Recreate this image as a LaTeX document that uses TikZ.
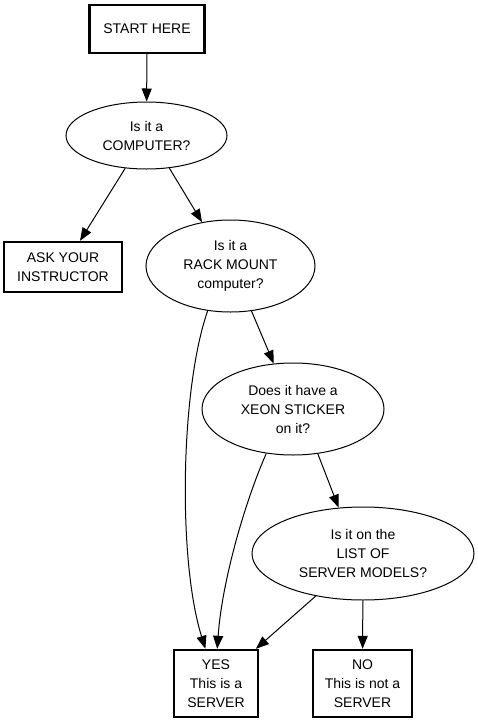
\documentclass[tikz,border=0pt]{standalone}
\usepackage{fontspec}
\setmainfont{Liberation Sans}
\usetikzlibrary{shapes.geometric,arrows.meta}
\begin{document}
\begin{tikzpicture}[x=1pt,y=-1pt,
  every node/.style={font=\fontsize{14}{19}\selectfont, align=center, inner sep=0pt},
  box/.style={draw, line width=2.4pt, rectangle},
  oval/.style={draw, line width=1pt, ellipse},
  edge/.style={draw, line width=1pt, -{Triangle[length=13pt,width=10pt]}}]
\useasboundingbox (0,0) rectangle (477,723);
\node[box, minimum width=115, minimum height=48] (start) at (147,29) {START HERE};
\node[oval, minimum width=161, minimum height=67] (comp) at (146.5,135.5) {Is it a\\COMPUTER?};
\node[box, minimum width=118, minimum height=50] (ask) at (63,267) {ASK YOUR\\INSTRUCTOR};
\node[oval, minimum width=169, minimum height=92] (rack) at (230.5,266) {Is it a\\RACK MOUNT\\computer?};
\node[oval, minimum width=182, minimum height=92] (xeon) at (293,409) {Does it have a\\XEON STICKER\\on it?};
\node[oval, minimum width=222, minimum height=93] (list) at (363,553.5) {Is it on the\\LIST OF\\SERVER MODELS?};
\node[box, minimum width=84, minimum height=67] (yes) at (216,683.5) {YES\\This is a\\SERVER};
\node[box, minimum width=99, minimum height=67] (no) at (362.5,683.5) {NO\\This is not a\\SERVER};
\draw[edge] (start) -- (comp);
\draw[edge] (comp.-123) -- (ask.57);
\draw[edge] (comp.-55) -- (rack.123);
\draw[edge] (rack.-65) -- (xeon.113);
\draw[edge] (xeon.-61) -- (list.118);
\draw[edge] (list.-138) -- (yes.41);
\draw[edge] (list) -- (no);
\draw[edge] (rack.-117) .. controls +(-27,77) and +(-28,-90) .. (yes.107);
\draw[edge] (xeon.-121) .. controls +(-20,45) and +(5,-70) .. (yes.88);
\end{tikzpicture}
\end{document}
